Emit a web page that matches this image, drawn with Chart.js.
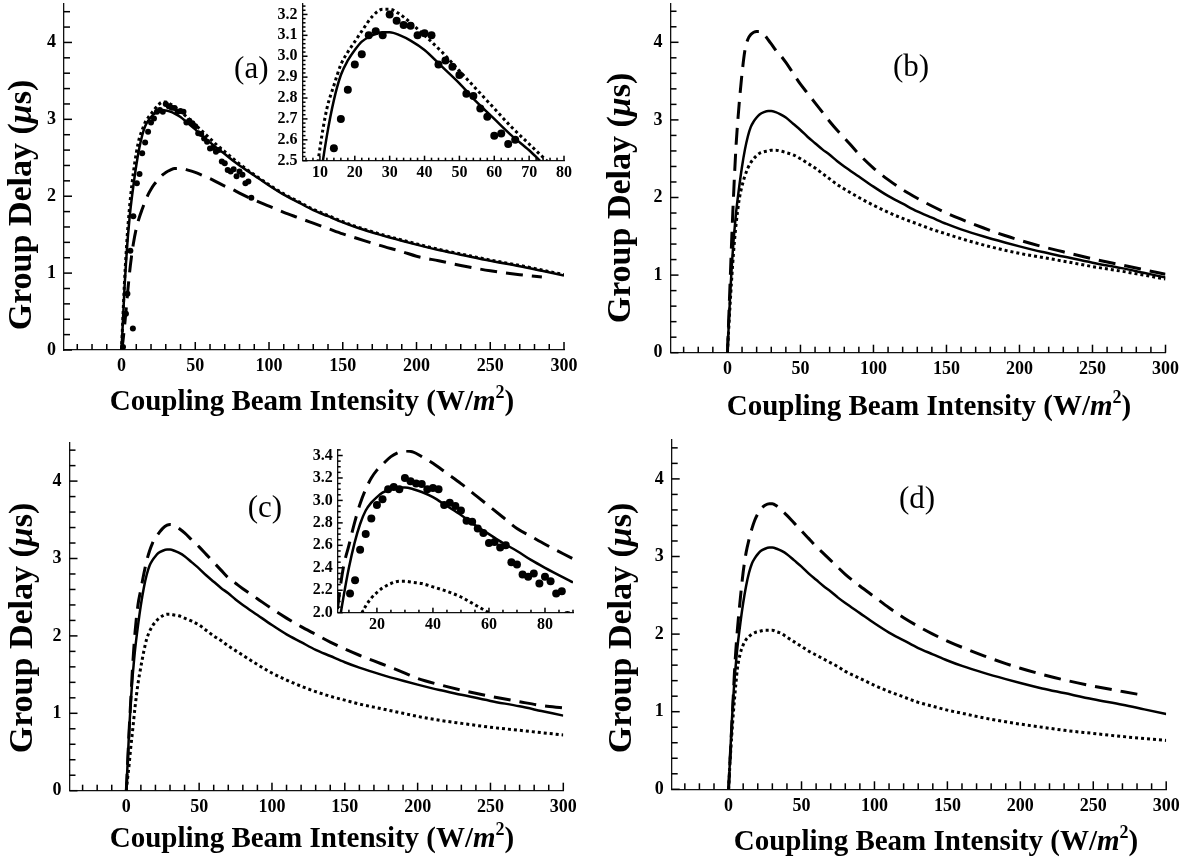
<!DOCTYPE html>
<html>
<head>
<meta charset="utf-8">
<script src="https://cdn.jsdelivr.net/npm/chart.js@4.4.1/dist/chart.umd.min.js"></script>
<style>
  html, body { margin: 0; padding: 0; background: #fff; }
  body { width: 1188px; height: 867px; position: relative; overflow: hidden; }
  canvas { position: absolute; }
  .inset { z-index: 2; }
</style>
</head>
<body>
<canvas id="panelA"></canvas>
<canvas id="panelB"></canvas>
<canvas id="panelC"></canvas>
<canvas id="panelD"></canvas>
<canvas id="insetA" class="inset"></canvas>
<canvas id="insetC" class="inset"></canvas>
<script>
// ---------------- DATA ----------------
// Coupling beam intensity grid (W/m^2) shared by all theory curves
const intensity = [0,1,2,3,4,5,6,8,10,12,14,16,18,20,22,25,28,30,33,36,40,45,50,55,60,65,70,75,80,90,100,110,120,130,140,150,160,175,190,200,215,230,250,270,285,300];

// Solid curve (best fit), same in all four panels (group delay, microseconds)
const delayFit = [0,0.4,0.8,1.12,1.4,1.62,1.82,2.13,2.4,2.62,2.79,2.91,2.98,3.03,3.07,3.1,3.115,3.115,3.1,3.075,3.03,2.95,2.87,2.78,2.7,2.62,2.55,2.47,2.4,2.27,2.14,2.02,1.92,1.82,1.74,1.66,1.59,1.5,1.42,1.37,1.3,1.24,1.16,1.09,1.03,0.97];

// Panel (a)
const delayA_dotted = [0,0.45,0.88,1.22,1.52,1.76,1.97,2.3,2.56,2.75,2.86,2.96,3.02,3.07,3.12,3.19,3.225,3.225,3.2,3.16,3.1,3.02,2.93,2.84,2.75,2.66,2.58,2.5,2.42,2.28,2.15,2.03,1.93,1.83,1.75,1.67,1.6,1.51,1.43,1.38,1.31,1.25,1.17,1.1,1.04,0.98];
const delayA_dashed = [0,0.12,0.3,0.5,0.72,0.92,1.1,1.38,1.58,1.72,1.83,1.93,2.02,2.09,2.15,2.22,2.28,2.31,2.34,2.36,2.36,2.34,2.31,2.27,2.23,2.18,2.13,2.09,2.04,1.95,1.87,1.79,1.72,1.65,1.58,1.51,1.45,1.36,1.28,1.22,1.16,1.1,1.03,0.98,0.95,null];

// Panel (b)
const delayB_dashed = [0,0.5,1.0,1.5,1.95,2.35,2.7,3.2,3.6,3.9,4.04,4.1,4.13,4.14,4.14,4.1,4.03,3.98,3.9,3.84,3.74,3.6,3.46,3.34,3.22,3.1,2.98,2.87,2.77,2.56,2.38,2.23,2.1,1.99,1.89,1.8,1.72,1.61,1.51,1.45,1.37,1.3,1.21,1.13,1.07,1.01];
const delayB_dotted = [0,0.35,0.68,0.98,1.25,1.48,1.67,1.97,2.15,2.28,2.38,2.45,2.5,2.54,2.57,2.59,2.6,2.61,2.61,2.6,2.58,2.55,2.5,2.44,2.38,2.31,2.24,2.17,2.11,2.0,1.9,1.81,1.73,1.66,1.59,1.53,1.47,1.39,1.32,1.28,1.23,1.18,1.11,1.05,1.0,0.95];

// Panel (c)
const delayC_dashed = [0,0.4,0.8,1.15,1.5,1.8,2.05,2.4,2.6,2.8,2.97,3.1,3.2,3.27,3.32,3.39,3.43,3.44,3.43,3.39,3.33,3.24,3.15,3.05,2.95,2.85,2.75,2.68,2.61,2.48,2.35,2.23,2.12,2.02,1.92,1.83,1.75,1.64,1.53,1.45,1.37,1.3,1.22,1.15,1.1,1.07];
const delayC_dotted = [0,0.18,0.35,0.55,0.72,0.9,1.08,1.38,1.6,1.8,1.96,2.06,2.13,2.18,2.22,2.26,2.28,2.28,2.27,2.26,2.23,2.19,2.14,2.07,2.0,1.94,1.87,1.81,1.75,1.63,1.52,1.43,1.35,1.28,1.22,1.17,1.12,1.06,1.0,0.96,0.91,0.87,0.82,0.78,0.75,0.72];

// Panel (d)
const delayD_dashed = [0,0.38,0.75,1.12,1.5,1.8,2.05,2.45,2.8,3.05,3.22,3.36,3.47,3.55,3.61,3.66,3.68,3.68,3.65,3.6,3.53,3.43,3.33,3.23,3.13,3.04,2.95,2.86,2.77,2.62,2.48,2.34,2.21,2.1,2.0,1.91,1.83,1.72,1.62,1.56,1.48,1.41,1.33,1.26,1.21,null];
const delayD_dotted = [0,0.35,0.65,0.92,1.15,1.36,1.55,1.75,1.86,1.93,1.97,2.0,2.02,2.03,2.04,2.05,2.05,2.05,2.03,2.01,1.96,1.9,1.84,1.78,1.73,1.68,1.63,1.58,1.52,1.43,1.34,1.26,1.19,1.12,1.07,1.02,0.98,0.92,0.87,0.84,0.8,0.76,0.72,0.68,0.655,0.63];

// Measured points (panel a, inset a, inset c)
const measuredIntensity = [1,3,4,6,7.7,8,10.4,12.2,14,16,18,20,22,24,26,28,30,32,34,36,38,40,42,44,46,48,50,52,54,56,58,60,62,64,66,68,70,72,74,76,78,80,82,84,86,88];
const measuredDelay = [0.04,0.47,0.73,1.29,0.28,1.74,2.17,2.29,2.56,2.7,2.84,2.96,3.01,3.1,3.12,3.1,3.2,3.17,3.15,3.146,3.1,3.11,3.1,2.96,2.98,2.95,2.91,2.82,2.81,2.75,2.71,2.62,2.63,2.58,2.6,2.45,2.43,2.34,2.32,2.35,2.26,2.32,2.28,2.17,2.19,1.98];

// Tick labels
const mainXTicks = [0,50,100,150,200,250,300];
const mainYTicks = [0,1,2,3,4];
const insetAXTicks = [10,20,30,40,50,60,70,80];
const insetAYTicks = [2.5,2.6,2.7,2.8,2.9,3.0,3.1,3.2];
const insetCXTicks = [20,40,60,80];
const insetCYTicks = [2.0,2.2,2.4,2.6,2.8,3.0,3.2,3.4];

// ---------------- HELPERS ----------------
const SERIF = '"Liberation Serif", "DejaVu Serif", serif';
function pts(xs, ys) {
  const out = [];
  xs.forEach((x, i) => { if (ys[i] !== null && ys[i] !== undefined) out.push({x: x, y: ys[i]}); });
  return out;
}
function solid(ys, w) { return {data: pts(intensity, ys), borderColor:'#000', borderWidth: w || 2.5, pointRadius:0, fill:false, cubicInterpolationMode:'monotone', order:1}; }
function dashed(ys, w) { return {data: pts(intensity, ys), borderColor:'#000', borderWidth: w || 3, borderDash:[17,9], pointRadius:0, fill:false, cubicInterpolationMode:'monotone', order:2}; }
function dotted(ys, w) { return {data: pts(intensity, ys), borderColor:'#000', borderWidth: w || 3, borderDash:[3,3], pointRadius:0, fill:false, cubicInterpolationMode:'monotone', order:3}; }
function dots(r) { return {data: pts(measuredIntensity, measuredDelay), showLine:false, pointRadius:r, pointBackgroundColor:'#000', pointBorderWidth:0, borderColor:'#000', order:0}; }

function richText(ctx, parts, cx, cy, rot) {
  ctx.save();
  ctx.translate(cx, cy);
  if (rot) ctx.rotate(rot);
  let w = 0;
  const widths = parts.map(p => { ctx.font = p.f; const m = ctx.measureText(p.t).width; w += m; return m; });
  let x = -w / 2;
  ctx.textBaseline = 'middle';
  ctx.textAlign = 'left';
  ctx.fillStyle = '#000';
  parts.forEach((p, i) => { ctx.font = p.f; ctx.fillText(p.t, x, p.dy || 0); x += widths[i]; });
  ctx.restore();
}

// decoration settings (inward tick marks, titles, panel letters) per canvas id
const decorSettings = {};
const decorPlugin = {
  id: 'decor',
  afterDraw(chart) {
    const o = decorSettings[chart.canvas.id];
    if (!o) return;
    const ctx = chart.ctx, xs = chart.scales.x, ys = chart.scales.y, a = chart.chartArea;
    ctx.save();
    ctx.setLineDash([]);
    ctx.fillStyle = '#000';
    const isMajor = (v, m) => Math.abs(v / m - Math.round(v / m)) < 1e-6;
    for (let i = 0; i < 500; i++) {
      const v = o.xFrom + i * o.xMinor;
      if (v > xs.max + 1e-9) break;
      const px = xs.getPixelForValue(v);
      const len = isMajor(v, o.xMajor) ? o.majorLen : o.minorLen;
      ctx.fillRect(px - 0.75, a.bottom - len, 1.5, len);
    }
    for (let i = 0; i < 500; i++) {
      const v = o.yFrom + i * o.yMinor;
      if (v > ys.max + 1e-9) break;
      const py = ys.getPixelForValue(v);
      const len = isMajor(v, o.yMajor) ? o.majorLen : o.minorLen;
      ctx.fillRect(a.left, py - 0.75, len, 1.5);
    }
    ctx.restore();
    (o.texts || []).forEach(t => {
      if (t.atData) richText(ctx, t.parts, xs.getPixelForValue(t.x), ys.getPixelForValue(t.y), 0);
      else richText(ctx, t.parts, t.x - o.ox, t.y - o.oy, t.rot || 0);
    });
  }
};
Chart.register(decorPlugin);

function xTitle(cx, cy) {
  return {x: cx, y: cy, parts: [
    {t: 'Coupling Beam Intensity (W/', f: 'bold 29px ' + SERIF},
    {t: 'm', f: 'italic bold 29px ' + SERIF},
    {t: '2', f: 'bold 18px ' + SERIF, dy: -10},
    {t: ')', f: 'bold 29px ' + SERIF}
  ]};
}
function yTitle(cx, cy) {
  return {x: cx, y: cy, rot: -Math.PI / 2, parts: [
    {t: 'Group Delay (', f: 'bold 34px ' + SERIF},
    {t: 'μ', f: 'italic bold 34px ' + SERIF},
    {t: 's)', f: 'bold 34px ' + SERIF}
  ]};
}
function panelLabel(txt, x, y) {
  return {atData: true, x: x, y: y, parts: [{t: txt, f: '31px ' + SERIF}]};
}

function makeChart(id, g, cfg) {
  const cv = document.getElementById(id);
  cv.width = g.w; cv.height = g.h;
  cv.style.left = g.left + 'px'; cv.style.top = g.top + 'px';
  cv.style.width = g.w + 'px'; cv.style.height = g.h + 'px';
  decorSettings[id] = Object.assign({ox: g.left, oy: g.top}, cfg.decor);
  const aL = g.areaL - g.left, aR = g.areaR - g.left, aT = g.areaT - g.top, aB = g.areaB - g.top;
  const tickFont = {family: SERIF, size: cfg.tickSize, weight: 'bold'};
  const zeroPad = s => { s.paddingTop = 0; s.paddingBottom = 0; s.paddingLeft = 0; s.paddingRight = 0; };
  return new Chart(cv, {
    type: 'line',
    data: {datasets: cfg.datasets},
    options: {
      responsive: false, animation: false, events: [],
      layout: {padding: {left: 0, top: aT, right: g.w - aR, bottom: 0}},
      plugins: {legend: {display: false}, tooltip: {enabled: false}},
      scales: {
        x: {
          type: 'linear', min: cfg.xMin, max: cfg.xMax,
          afterBuildTicks: s => { s.ticks = cfg.xTicks.map(v => ({value: v})); },
          afterFit: s => { s.height = g.h - aB; zeroPad(s); },
          grid: {display: false, drawTicks: false},
          border: {display: true, color: '#111', width: 1.3},
          ticks: {font: tickFont, color: '#000', padding: cfg.xPad, maxRotation: 0, autoSkip: false,
                  callback: v => cfg.xFmt ? cfg.xFmt(v) : String(v)}
        },
        y: {
          type: 'linear', min: cfg.yMin, max: cfg.yMax,
          afterBuildTicks: s => { s.ticks = cfg.yTicks.map(v => ({value: v})); },
          afterFit: s => { s.width = aL; zeroPad(s); },
          grid: {display: false, drawTicks: false},
          border: {display: true, color: '#111', width: 1.3},
          ticks: {font: tickFont, color: '#000', padding: cfg.yPad, autoSkip: false,
                  callback: v => cfg.yFmt ? cfg.yFmt(v) : String(v)}
        }
      }
    }
  });
}

const mainDecor = {xFrom: -30, xMinor: 10, xMajor: 50, yFrom: 0, yMinor: 0.2, yMajor: 1, minorLen: 6, majorLen: 8};

// ---------------- PANELS ----------------
makeChart('panelA', {left: 0, top: 0, w: 594, h: 433, areaL: 64, areaR: 564, areaT: 1.25, areaB: 350}, {
  xMin: -39, xMax: 300, yMin: 0, yMax: 4.5, xTicks: mainXTicks, yTicks: mainYTicks, tickSize: 18, xPad: 6, yPad: 8,
  datasets: [dots(3), solid(delayFit), dotted(delayA_dotted), dashed(delayA_dashed)],
  decor: Object.assign({texts: [xTitle(312, 403), yTitle(22, 205), panelLabel('(a)', 88, 3.64)]}, mainDecor)
});
makeChart('panelB', {left: 594, top: 0, w: 594, h: 433, areaL: 670.5, areaR: 1165.5, areaT: 3.5, areaB: 352.7}, {
  xMin: -39, xMax: 300, yMin: 0, yMax: 4.5, xTicks: mainXTicks, yTicks: mainYTicks, tickSize: 18, xPad: 6, yPad: 8,
  datasets: [solid(delayFit), dotted(delayB_dotted), dashed(delayB_dashed)],
  decor: Object.assign({texts: [xTitle(929, 408), yTitle(621, 198), panelLabel('(b)', 125.7, 3.67)]}, mainDecor)
});
makeChart('panelC', {left: 0, top: 433, w: 594, h: 434, areaL: 69.5, areaR: 563.3, areaT: 442.4, areaB: 790.7}, {
  xMin: -39, xMax: 300, yMin: 0, yMax: 4.5, xTicks: mainXTicks, yTicks: mainYTicks, tickSize: 18, xPad: 6, yPad: 8,
  datasets: [solid(delayFit), dotted(delayC_dotted), dashed(delayC_dashed)],
  decor: Object.assign({texts: [xTitle(312, 840), yTitle(23, 628), panelLabel('(c)', 95.2, 3.64)]}, mainDecor)
});
makeChart('panelD', {left: 594, top: 433, w: 594, h: 434, areaL: 671.7, areaR: 1166.2, areaT: 440.1, areaB: 789.3}, {
  xMin: -39, xMax: 300, yMin: 0, yMax: 4.5, xTicks: mainXTicks, yTicks: mainYTicks, tickSize: 18, xPad: 6, yPad: 8,
  datasets: [solid(delayFit), dotted(delayD_dotted), dashed(delayD_dashed)],
  decor: Object.assign({texts: [xTitle(936, 843), yTitle(622, 628), panelLabel('(d)', 129.2, 3.73)]}, mainDecor)
});

// ---------------- INSETS ----------------
makeChart('insetA', {left: 255, top: 0, w: 325, h: 185, areaL: 302.5, areaR: 564, areaT: 2, areaB: 160.7}, {
  xMin: 5, xMax: 80, yMin: 2.5, yMax: 3.25, xTicks: insetAXTicks, yTicks: insetAYTicks, tickSize: 16, xPad: 3, yPad: 5,
  yFmt: v => v.toFixed(1),
  datasets: [dots(4), solid(delayFit, 2.5), dotted(delayA_dotted, 3)],
  decor: {xFrom: 6, xMinor: 2, xMajor: 10, yFrom: 2.5, yMinor: 0.02, yMajor: 0.1, minorLen: 3, majorLen: 5, texts: []}
});
makeChart('insetC', {left: 290, top: 440, w: 300, h: 200, areaL: 337.7, areaR: 573, areaT: 449.9, areaB: 612.7}, {
  xMin: 6, xMax: 90, yMin: 2.0, yMax: 3.45, xTicks: insetCXTicks, yTicks: insetCYTicks, tickSize: 16, xPad: 3, yPad: 5,
  yFmt: v => v.toFixed(1),
  datasets: [dots(4), solid(delayFit, 2.5), dotted(delayC_dotted, 3), dashed(delayC_dashed, 3)],
  decor: {xFrom: 10, xMinor: 5, xMajor: 20, yFrom: 2.0, yMinor: 0.05, yMajor: 0.2, minorLen: 3, majorLen: 5, texts: []}
});
</script>
</body>
</html>
